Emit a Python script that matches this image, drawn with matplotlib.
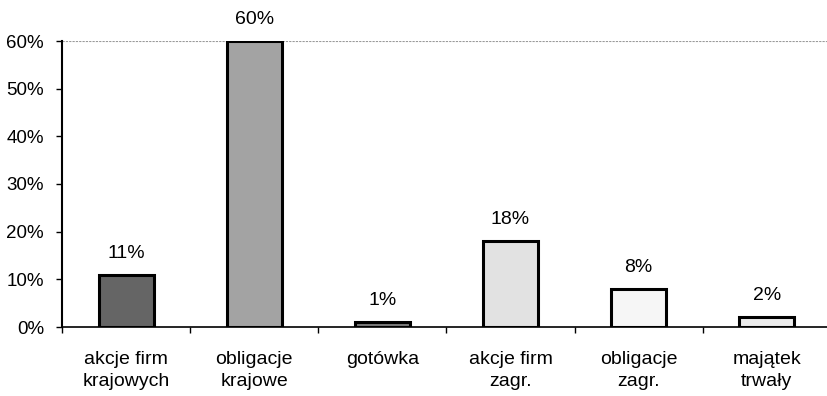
import matplotlib
matplotlib.use("Agg")
import matplotlib.pyplot as plt
import numpy as np
from matplotlib.ticker import FixedLocator, FuncFormatter

plt.rcParams['font.family'] = ['Liberation Sans', 'DejaVu Sans']

categories = ["akcje firm\nkrajowych", "obligacje\nkrajowe", "gotówka",
              "akcje firm\nzagr.", "obligacje\nzagr.", "majątek\ntrwały"]
values = [11, 60, 1, 18, 8, 2]
labels = ["11%", "60%", "1%", "18%", "8%", "2%"]
colors = ["#656565", "#a3a3a3", "#7a7a7a", "#e2e2e2", "#f6f6f6", "#ebebeb"]

fig = plt.figure(figsize=(8.27, 3.96), dpi=100)
ax = fig.add_axes([62/827, 69/396, 1 - 62/827, (327-41)/396])

x = np.arange(len(values))
ax.bar(x, values, width=0.43, color=colors, edgecolor="black", linewidth=2.2, zorder=3)

for xi, v, lab in zip(x, values, labels):
    ax.annotate(lab, (xi, v), xytext=(0, 15.5), textcoords="offset points",
                ha="center", va="center", fontsize=14)

ax.set_ylim(0, 60)
ax.set_xlim(-0.5, 5.47)
ax.set_yticks(np.arange(0, 61, 10))
ax.yaxis.set_major_formatter(FuncFormatter(lambda v, p: f"{int(v)}%"))
ax.tick_params(axis='y', labelsize=13.5, length=4, width=1, pad=9)

ax.xaxis.set_major_locator(FixedLocator(np.arange(-0.5, 6, 1)))
ax.xaxis.set_major_formatter(FuncFormatter(lambda v, p: ""))
ax.xaxis.set_minor_locator(FixedLocator(x))
ax.set_xticklabels(categories, minor=True, fontsize=14, linespacing=1.4)
ax.tick_params(axis='x', which='major', length=4, width=1)
ax.tick_params(axis='x', which='minor', length=0, pad=17)

ax.axhline(60, color="#9a9a9a", linewidth=0.8, linestyle=(0, (2, 1)), zorder=1)

for s in ["top", "right"]:
    ax.spines[s].set_visible(False)
ax.spines["left"].set_linewidth(1.5)
ax.spines["bottom"].set_linewidth(1.2)

fig.savefig("out.png", dpi=100)
